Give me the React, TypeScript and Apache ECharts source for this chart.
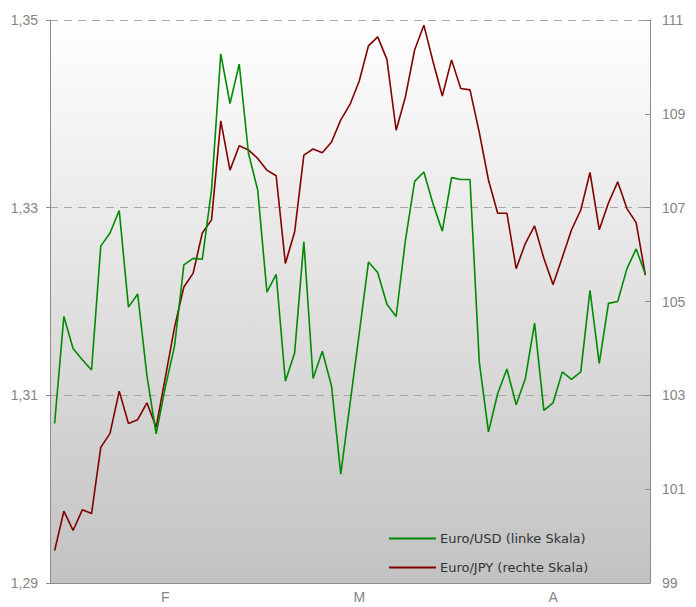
import React, { useEffect, useRef } from "react";
import * as echarts from "echarts";

// 65 trading days; month labels at mid-month
const dayLabels: string[] = Array.from({ length: 65 }, () => "");
dayLabels[12] = "F";
dayLabels[33] = "M";
dayLabels[54] = "A";

const usdSeriesName = "Euro/USD (linke Skala)";
const jpySeriesName = "Euro/JPY (rechte Skala)";

const eurUsd: number[] = [
  1.307, 1.3184, 1.315, 1.3138, 1.3127, 1.3259, 1.3273, 1.3297, 1.3194, 1.3208,
  1.3121, 1.3059, 1.3109, 1.3153, 1.3239, 1.3246, 1.3245, 1.3319, 1.3464, 1.3411,
  1.3453, 1.3358, 1.3319, 1.321, 1.3229, 1.3115, 1.3145, 1.3264, 1.3118, 1.3147,
  1.311, 1.3016, 1.3091, 1.3166, 1.3242, 1.3231, 1.3197, 1.3184, 1.3265, 1.3328,
  1.3338, 1.3304, 1.3275, 1.3332, 1.333, 1.333, 1.3136, 1.3061, 1.3102, 1.3128,
  1.309, 1.3118, 1.3177, 1.3084, 1.3092, 1.3125, 1.3117, 1.3125, 1.3212, 1.3134,
  1.3198, 1.32, 1.3235, 1.3256, 1.3229,
];

const eurJpy: number[] = [
  99.69, 100.53, 100.12, 100.56, 100.48, 101.89, 102.19, 103.09, 102.4, 102.48,
  102.84, 102.32, 103.39, 104.46, 105.31, 105.6, 106.46, 106.74, 108.85, 107.8,
  108.32, 108.23, 108.05, 107.8, 107.68, 105.81, 106.48, 108.12, 108.25, 108.17,
  108.4, 108.87, 109.2, 109.7, 110.45, 110.64, 110.16, 108.65, 109.36, 110.36,
  110.89, 110.11, 109.38, 110.15, 109.54, 109.51, 108.61, 107.59, 106.88, 106.88,
  105.7, 106.24, 106.61, 105.92, 105.36, 105.94, 106.53, 106.95, 107.75, 106.53,
  107.1, 107.55, 106.98, 106.68, 105.56,
];

const leftTicks: number[] = [1.29, 1.31, 1.33, 1.35];
const rightTicks: number[] = [99, 101, 103, 105, 107, 109, 111];

const comma = (v: number, d: number) => v.toFixed(d).replace(".", ",");

export default function App() {
  const ref = useRef<HTMLDivElement>(null);
  useEffect(() => {
    if (!ref.current) return;
    const chart = echarts.init(ref.current, null, { renderer: "svg" });
    const labelColor = "#858585";
    const axisColor = "#8c8c8c";
    chart.setOption({
      animation: false,
      textStyle: { fontFamily: "Liberation Sans, Arial, sans-serif" },
      grid: {
        left: 50,
        right: 46,
        top: 20,
        bottom: 24,
        containLabel: false,
        outerBoundsMode: "none",
        show: true,
        borderWidth: 0,
        backgroundColor: new echarts.graphic.LinearGradient(0, 0, 0, 1, [
          { offset: 0, color: "#ffffff" },
          { offset: 1, color: "#c2c2c2" },
        ]),
      },
      legend: {
        orient: "vertical",
        left: 384,
        top: 527,
        padding: 5,
        itemWidth: 47,
        itemHeight: 2,
        itemGap: 16,
        icon: "rect",
        textStyle: { color: "#333", fontSize: 13, fontFamily: "DejaVu Sans, sans-serif", padding: [0, 0, 0, -1] },
        data: [usdSeriesName, jpySeriesName],
      },
      xAxis: {
        type: "category",
        data: dayLabels,
        boundaryGap: true,
        axisLine: { lineStyle: { color: axisColor } },
        axisTick: { interval: 0, length: 3, lineStyle: { color: axisColor } },
        axisLabel: { interval: 0, color: labelColor, fontSize: 14, margin: 7 },
        splitLine: { show: false },
      },
      yAxis: [
        {
          type: "value",
          min: 1.29,
          max: 1.35,
          position: "left",
          axisLine: { show: true, lineStyle: { color: axisColor } },
          axisTick: {
            show: true,
            length: 4,
            customValues: leftTicks,
            lineStyle: { color: axisColor },
          },
          axisLabel: {
            customValues: leftTicks,
            color: labelColor,
            fontSize: 14,
            margin: 12,
            formatter: (v: number) => comma(v, 2),
          },
          splitLine: {
            show: true,
            lineStyle: { color: "#a6a6a6", type: [8, 6], width: 1 },
          },
        },
        {
          type: "value",
          min: 99,
          max: 111,
          position: "right",
          axisLine: { show: true, lineStyle: { color: axisColor } },
          axisTick: {
            show: true,
            inside: true,
            length: 5,
            customValues: rightTicks,
            lineStyle: { color: axisColor },
          },
          axisLabel: {
            customValues: rightTicks,
            color: labelColor,
            fontSize: 14,
            margin: 12,
            formatter: (v: number) => String(v),
          },
          splitLine: { show: false },
        },
      ],
      series: [
        {
          name: usdSeriesName,
          type: "line",
          yAxisIndex: 0,
          data: eurUsd,
          symbol: "none",
          lineStyle: { color: "#008a00", width: 1.6 },
          itemStyle: { color: "#008a00" },
          z: 3,
        },
        {
          name: jpySeriesName,
          type: "line",
          yAxisIndex: 1,
          data: eurJpy,
          symbol: "none",
          lineStyle: { color: "#800000", width: 1.6 },
          itemStyle: { color: "#800000" },
          z: 2,
        },
      ],
    });
    return () => chart.dispose();
  }, []);
  return <div ref={ref} style={{ width: 696, height: 607, position: "absolute", left: 0, top: 0 }} />;
}
